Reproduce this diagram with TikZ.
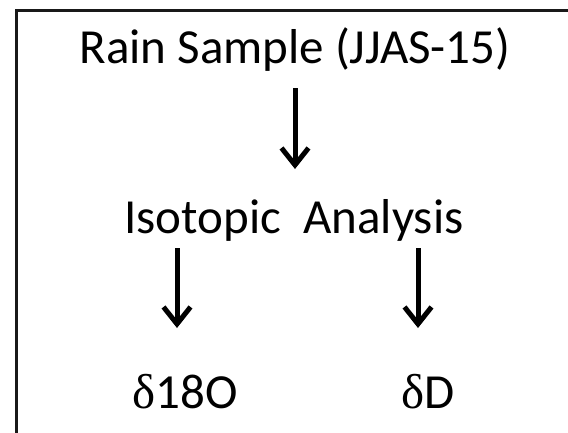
\documentclass[tikz,border=0pt]{standalone}
\usepackage{fontspec}
\setmainfont{Carlito}
\newfontfamily\deltafont{Liberation Serif}
\usetikzlibrary{arrows.meta}
\tikzset{
  lbl/.style={anchor=base, inner sep=0pt, font=\fontsize{49}{56}\selectfont},
  arr/.style={line width=5pt, -{Straight Barb[length=17pt,width=27pt,line width=5pt]}},
  frame/.style={line width=3pt, draw=black!90}
}
\begin{document}
\begin{tikzpicture}[x=1pt,y=-1pt]
\useasboundingbox (0,0) rectangle (568,432);
\clip (0,0) rectangle (568,432);
\draw[frame] (16.5,10) rectangle (620,480);
\node[lbl] (rain) at (295,63) {Rain Sample (JJAS-15)};
\node[lbl] (iso) at (294,233) {Isotopic\ \ Analysis};
\node[lbl] (o18) at (185,408) {{\deltafont δ}18O};
\node[lbl] (dD) at (428,408) {{\deltafont δ}D};
\coordinate (a1s) at (295,88);
\coordinate (a1e) at (295,169);
\coordinate (a2s) at (177,248);
\coordinate (a2e) at (177,328);
\coordinate (a3s) at (418,248);
\coordinate (a3e) at (418,328);
\draw[arr] (a1s) -- (a1e);
\draw[arr] (a2s) -- (a2e);
\draw[arr] (a3s) -- (a3e);
\end{tikzpicture}
\end{document}
